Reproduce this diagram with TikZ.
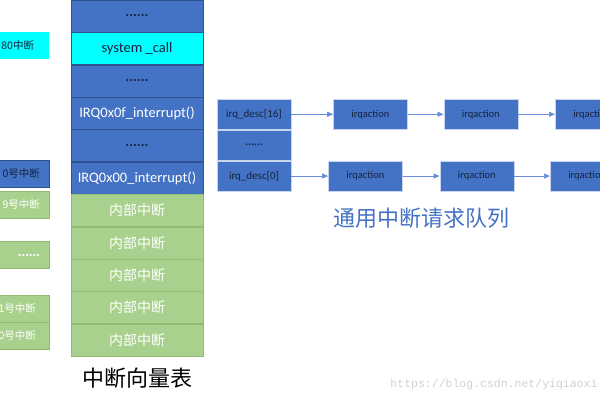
\documentclass[tikz,border=0pt]{standalone}
\usepackage{fontspec}
\setmainfont{Carlito}
\newfontfamily\cjk{Noto Sans CJK SC}
\newfontfamily\wmfont{Liberation Mono}
\usetikzlibrary{arrows.meta,positioning}
\definecolor{vecblue}{HTML}{4472C4}
\definecolor{vecedge}{HTML}{2F528F}
\definecolor{veccyan}{HTML}{00FFFF}
\definecolor{vecgreen}{HTML}{A9D18E}
\definecolor{greenedge}{HTML}{8FBC72}
\definecolor{darktext}{HTML}{16233F}
\definecolor{linkblue}{HTML}{6A8FD8}
\tikzset{
  cell/.style={draw=vecedge, fill=vecblue, minimum width=132pt, minimum height=32pt,
    inner sep=0pt, text=darktext, font=\fontsize{14.5}{16}\selectfont},
  sys cell/.style={cell, fill=veccyan},
  irq cell/.style={cell, text=white},
  int cell/.style={cell, draw=greenedge, fill=vecgreen, text=white, font=\cjk\fontsize{14}{16}\selectfont},
  side/.style={draw=vecedge, fill=vecblue, minimum width=80pt, minimum height=27pt, inner xsep=0pt,
    text width=62pt, align=right, text=darktext, font=\cjk\fontsize{10.5}{12}\selectfont},
  side cyan/.style={side, draw=none, fill=veccyan, text width=50pt},
  side green/.style={side, draw=greenedge, fill=vecgreen, text=white},
  desc/.style={draw=white!70!vecblue, fill=vecblue, minimum width=74pt, minimum height=30.5pt,
    inner sep=0pt, text=darktext, font=\fontsize{11}{13}\selectfont},
  action/.style={draw=white!70!vecblue, fill=vecblue, minimum width=74pt, minimum height=30pt,
    inner sep=0pt, text=darktext, font=\fontsize{10.5}{12}\selectfont},
  link/.style={-{Triangle[length=6pt,width=5pt]}, draw=linkblue, line width=0.7pt},
}
\begin{document}
\begin{tikzpicture}[x=1pt,y=-1pt]
  \useasboundingbox (0,0) rectangle (600,400);
  \clip (0,0) rectangle (600,400);

  % Interrupt numbers (left)
  \node[side cyan]  (n80)  at (9,45.5)  {80中断};
  \node[side]       (n20)  at (9,173.5) {0号中断};
  \node[side green] (n19)  at (9,205)   {9号中断};
  \node[side green] (ndot) at (9,255)   {\textbf{......}};
  \node[side green, text width=54pt] (n1) at (9,308.5) {1号中断};
  \node[side green, text width=54pt] (n0) at (9,335.5) {0号中断};

  % Vector table
  \node[cell] (vec1) at (137,16) {\textbf{......}};
  \node[sys cell, below=0pt of vec1] (vec2) {system \_call};
  \node[cell, below=0pt of vec2] (vec3) {\textbf{......}};
  \node[irq cell, below=0pt of vec3] (vec4) {IRQ0x0f\_interrupt()};
  \node[cell, below=0pt of vec4] (vec5) {\textbf{......}};
  \node[irq cell, below=0pt of vec5] (vec6) {IRQ0x00\_interrupt()};
  \node[int cell, below=0pt of vec6] (int1) {内部中断};
  \foreach \i [count=\j from 2] in {1,...,4}
    \node[int cell, below=0pt of int\i] (int\j) {内部中断};
  \node[font=\cjk\fontsize{22}{26}\selectfont] (vectitle) at (137,378) {中断向量表};

  % irq_desc array
  \node[desc] (desc16) at (254,114.25) {irq\_desc[16]};
  \node[desc, below=0pt of desc16] (descdot) {\textbf{......}};
  \node[desc, below=0pt of descdot] (desc0) {irq\_desc[0]};

  % Action queues
  \node[action, right=42pt of desc16] (actA1) {irqaction};
  \node[action, right=36pt of actA1] (actA2) {irqaction};
  \node[action, right=37pt of actA2] (actA3) {irqaction};
  \node[action, right=37pt of desc0] (actB1) {irqaction};
  \node[action, right=37pt of actB1] (actB2) {irqaction};
  \node[action, right=36pt of actB2] (actB3) {irqaction};
  \draw[link] (desc16) -- (actA1);
  \draw[link] (actA1) -- (actA2);
  \draw[link] (actA2) -- (actA3);
  \draw[link] (desc0) -- (actB1);
  \draw[link] (actB1) -- (actB2);
  \draw[link] (actB2) -- (actB3);
  \node[text=vecblue, font=\cjk\fontsize{22}{26}\selectfont] (queuetitle) at (421,218) {通用中断请求队列};

  % Watermark
  \node[text=black!18, font=\wmfont\fontsize{11.5}{13}\selectfont] (mark) at (494,385) {https://blog.csdn.net/yiqiaoxi};
\end{tikzpicture}
\end{document}
